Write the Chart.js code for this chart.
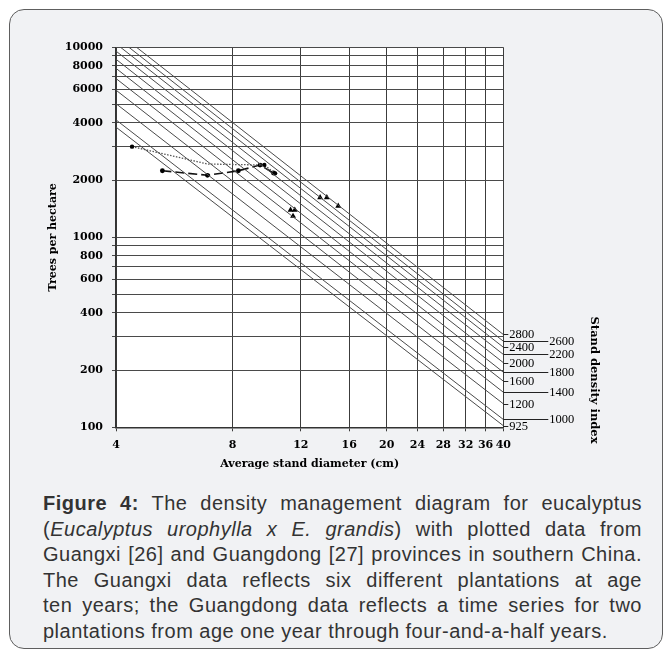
<!DOCTYPE html>
<html><head><meta charset="utf-8">
<script src="https://cdn.jsdelivr.net/npm/chart.js@4.4.1/dist/chart.umd.min.js"></script>
<style>
html,body{margin:0;padding:0;background:#fff;width:672px;height:651px;overflow:hidden;}
#box{position:absolute;left:9px;top:9px;width:654px;height:640px;box-sizing:border-box;border:1px solid #5e5e5e;border-radius:15px;background:#f1f2f4;}
#wrap{position:absolute;left:0;top:0;width:672px;height:480px;}
#cap{position:absolute;left:43px;top:491px;width:599px;font-family:"Liberation Sans",Arial,sans-serif;font-size:20px;line-height:25.6px;color:#333;letter-spacing:0.5px;}
#cap div{text-align:justify;text-align-last:justify;white-space:normal;}
#cap div.last{text-align:left;text-align-last:left;}
</style></head>
<body>
<div id="box"></div>
<div id="wrap"><canvas id="c" width="672" height="480"></canvas></div>
<div id="cap">
<div><b>Figure 4:</b> The density management diagram for eucalyptus</div>
<div>(<i>Eucalyptus urophylla x E. grandis</i>) with plotted data from</div>
<div>Guangxi [26] and Guangdong [27] provinces in southern China.</div>
<div>The Guangxi data reflects six different plantations at age</div>
<div>ten years; the Guangdong data reflects a time series for two</div>
<div class="last">plantations from age one year through four-and-a-half years.</div>
</div>
<script>
// ---- axis ticks ----
const xTickValues = [4, 8, 12, 16, 20, 24, 28, 32, 36, 40];
const yGridValues = [100,200,300,400,500,600,700,800,900,1000,2000,3000,4000,5000,6000,7000,8000,9000,10000];
const yLabelValues = [100,200,400,600,800,1000,2000,4000,6000,8000,10000];

// ---- stand density index reference lines ----
const sdiValues = [2800, 2600, 2400, 2200, 2000, 1800, 1600, 1400, 1200, 1000, 925];
const sdiStartD = [4.52, 4.32, 4.11, 4, 4, 4, 4, 4, 4, 4, 4];
const sdiStartN = [10000, 10000, 10000, 9550, 8650, 7750, 6850, 5950, 5050, 4150, 3800];
const sdiEndD   = [40, 40, 40, 40, 40, 40, 40, 40, 40, 40, 40];
const sdiEndN   = [308, 284, 264, 242, 219, 195, 175, 153, 133, 110, 102];

// ---- Guangdong time series (two plantations) ----
const gdA_D = [4.4, 6.9, 9.66, 10.3];
const gdA_N = [3000, 2430, 2400, 2170];
const gdB_D = [5.27, 6.89, 8.28, 9.42, 10.2];
const gdB_N = [2240, 2120, 2240, 2400, 2180];

// ---- Guangxi plantations at age ten ----
const gx_D = [11.29, 11.58, 11.46, 13.46, 14.01, 14.99];
const gx_N = [1392, 1392, 1294, 1620, 1620, 1461];

const pts = (xs, ys) => xs.map((x, i) => ({x: x, y: ys[i]}));

const datasets = [];
sdiValues.forEach((v, i) => {
  datasets.push({
    type: 'line', label: 'SDI ' + v,
    data: [{x: sdiStartD[i], y: sdiStartN[i]}, {x: sdiEndD[i], y: sdiEndN[i]}],
    borderColor: '#4a4a4a', borderWidth: 1, pointRadius: 0, fill: false
  });
});
datasets.push({
  type: 'line', label: 'Guangdong A', data: pts(gdA_D, gdA_N),
  borderColor: '#555', borderWidth: 1.3, borderDash: [1.5, 1.5],
  pointRadius: c => c.dataIndex === 1 ? 0 : 2.2, pointBackgroundColor: '#000', pointBorderColor: '#000', pointBorderWidth: 0
});
datasets.push({
  type: 'line', label: 'Guangdong B', data: pts(gdB_D, gdB_N),
  borderColor: '#111', borderWidth: 1.6, borderDash: [9, 4],
  pointRadius: 2.4, pointBackgroundColor: '#000', pointBorderColor: '#000', pointBorderWidth: 0
});
datasets.push({
  type: 'scatter', label: 'Guangxi', data: pts(gx_D, gx_N),
  pointStyle: 'triangle', pointRadius: 3.4, pointBackgroundColor: '#000', pointBorderColor: '#000', pointBorderWidth: 0
});

const bgPlugin = {
  id: 'bg',
  beforeDraw(chart) {
    const {ctx, chartArea: a} = chart;
    ctx.save(); ctx.fillStyle = '#fff';
    ctx.fillRect(a.left, a.top, a.right - a.left, a.bottom - a.top);
    ctx.restore();
  }
};
const sdiPlugin = {
  id: 'sdi',
  afterDraw(chart) {
    const {ctx} = chart; const xs = chart.scales.x, ys = chart.scales.y;
    const xr = xs.getPixelForValue(40);
    ctx.save();
    ctx.font = '12.5px "Liberation Serif"'; ctx.fillStyle = '#000'; ctx.strokeStyle = '#222';
    ctx.lineWidth = 1; ctx.textBaseline = 'middle'; ctx.textAlign = 'left';
    sdiValues.forEach((v, i) => {
      const y = Math.round(ys.getPixelForValue(sdiEndN[i])) + 0.5;
      const len = (i % 2 === 1) ? 45 : 5;
      ctx.beginPath(); ctx.moveTo(xr, y); ctx.lineTo(xr + len, y); ctx.stroke();
      ctx.fillText(String(v), xr + len + 1, y);
    });
    ctx.translate(594, 380); ctx.rotate(Math.PI / 2);
    ctx.font = 'bold 11.5px "DejaVu Serif"'; ctx.textAlign = 'center';
    ctx.fillText('Stand density index', 0, 0);
    ctx.restore();
  }
};

const tickFont = {family: 'DejaVu Serif', weight: 'bold', size: 11};
new Chart(document.getElementById('c'), {
  type: 'scatter',
  data: {datasets: datasets},
  options: {
    responsive: false, animation: false, devicePixelRatio: 1,
    layout: {padding: {top: 47.3, right: 168.7, left: 0, bottom: 0}},
    plugins: {legend: {display: false}, tooltip: {enabled: false}},
    scales: {
      x: {
        type: 'logarithmic', min: 4, max: 40,
        afterBuildTicks(s) { s.ticks = xTickValues.map(v => ({value: v})); },
        afterFit(s) { s.height = 52.7; },
        ticks: {autoSkip: false, maxRotation: 0, minRotation: 0, padding: 7, color: '#000', font: tickFont, callback: v => String(v)},
        grid: {color: '#3c3c3c', lineWidth: 1, tickLength: 4, drawTicks: true},
        border: {color: '#333', width: 1.5},
        title: {display: true, text: 'Average stand diameter (cm)', color: '#000', font: tickFont, padding: {top: 0, bottom: 9.4}}
      },
      y: {
        type: 'logarithmic', min: 100, max: 10000,
        afterBuildTicks(s) { s.ticks = yGridValues.map(v => ({value: v})); },
        afterFit(s) { s.width = 116; },
        ticks: {autoSkip: false, padding: 9, color: '#000', font: tickFont, callback: v => yLabelValues.includes(v) ? String(v) : ''},
        grid: {color: '#4a4a4a', lineWidth: 1, tickLength: 4, drawTicks: true},
        border: {color: '#333', width: 1.5},
        title: {display: true, text: 'Trees per hectare', color: '#000', font: tickFont, padding: {top: 46.4, bottom: 0}}
      }
    }
  },
  plugins: [bgPlugin, sdiPlugin]
});
</script>
</body></html>
